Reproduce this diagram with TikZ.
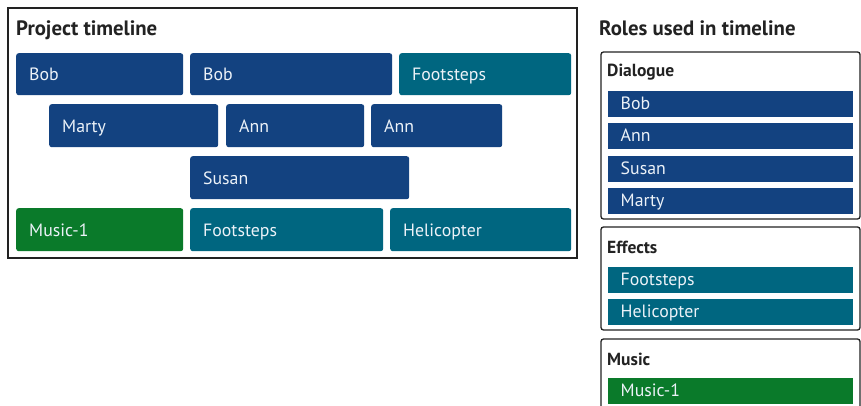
\documentclass[tikz,border=0pt]{standalone}
\usepackage{fontspec}
\setmainfont{PT Sans}
\definecolor{dlgblue}{RGB}{19,66,128}
\definecolor{fxteal}{RGB}{0,102,128}
\definecolor{musgreen}{RGB}{10,122,42}
\definecolor{ink}{RGB}{34,34,34}
\definecolor{paletext}{RGB}{236,242,248}
\tikzset{
  tlbox/.style={rounded corners=2.5pt, anchor=north west, minimum height=42pt,
    inner xsep=13pt, inner ysep=0pt, text height=13.5pt, text depth=0pt,
    align=left, text=paletext, font=\fontsize{17.8}{20}\selectfont},
  rolebar/.style={anchor=north west, minimum height=26pt, minimum width=245pt,
    text width=234pt, inner xsep=0pt, inner ysep=0pt,
    text height=10pt, text depth=0pt, align=left, text=paletext,
    font=\fontsize{17.8}{20}\selectfont},
  panel/.style={draw=ink, line width=1.3pt, rounded corners=2.5pt, fill=white},
  heading/.style={anchor=base west, inner sep=0pt, text=ink, font=\bfseries\fontsize{17.5}{20}\selectfont},
  bigtitle/.style={anchor=base west, inner sep=0pt, text=ink, font=\bfseries\fontsize{20.8}{24}\selectfont},
}
\begin{document}
\begin{tikzpicture}[x=1pt,y=-1pt]
\clip (0,0) rectangle (861,406);
\fill[white] (0,0) rectangle (861,406);
% timeline frame
\draw[ink, line width=1.5pt] (8,8) rectangle (577,258);
\node[bigtitle] (tltitle) at (16,36) {Project timeline};
% row 1
\node[tlbox, fill=dlgblue, text width=141pt] (r1a) at (16,53) {Bob};
\node[tlbox, fill=dlgblue, text width=176pt] (r1b) at (190,53) {Bob};
\node[tlbox, fill=fxteal, text width=146pt] (r1c) at (399,53) {Footsteps};
% row 2
\node[tlbox, fill=dlgblue, text width=143pt, minimum height=43pt] (r2a) at (49,104) {Marty};
\node[tlbox, fill=dlgblue, text width=112pt, minimum height=43pt] (r2b) at (226,104) {Ann};
\node[tlbox, fill=dlgblue, text width=105pt, minimum height=43pt] (r2c) at (371,104) {Ann};
% row 3
\node[tlbox, fill=dlgblue, text width=193pt, minimum height=43pt] (r3a) at (190,156) {Susan};
% row 4
\node[tlbox, fill=musgreen, text width=141pt, minimum height=43pt] (r4a) at (16,208) {Music-1};
\node[tlbox, fill=fxteal, text width=167pt, minimum height=43pt] (r4b) at (190,208) {Footsteps};
\node[tlbox, fill=fxteal, text width=155pt, minimum height=43pt] (r4c) at (390,208) {Helicopter};
% roles
\node[bigtitle] (rtitle) at (599,36) {Roles used in timeline};
\draw[panel] (601,52) rectangle (860,219);
\node[heading] (hdlg) at (607,77) {Dialogue};
\node[rolebar, fill=dlgblue] (rb1) at (608,91) {\hspace*{7pt}Bob};
\node[rolebar, fill=dlgblue] (rb2) at (608,123) {\hspace*{7pt}Ann};
\node[rolebar, fill=dlgblue] (rb3) at (608,156) {\hspace*{7pt}Susan};
\node[rolebar, fill=dlgblue] (rb4) at (608,188) {\hspace*{7pt}Marty};
\draw[panel] (601,227) rectangle (860,330);
\node[heading] (hfx) at (607,253) {Effects};
\node[rolebar, fill=fxteal] (rb5) at (608,267) {\hspace*{7pt}Footsteps};
\node[rolebar, fill=fxteal] (rb6) at (608,299) {\hspace*{7pt}Helicopter};
\draw[panel] (601,339) rectangle (860,440);
\node[heading] (hmus) at (607,365) {Music};
\node[rolebar, fill=musgreen] (rb7) at (608,378) {\hspace*{7pt}Music-1};
\end{tikzpicture}
\end{document}
